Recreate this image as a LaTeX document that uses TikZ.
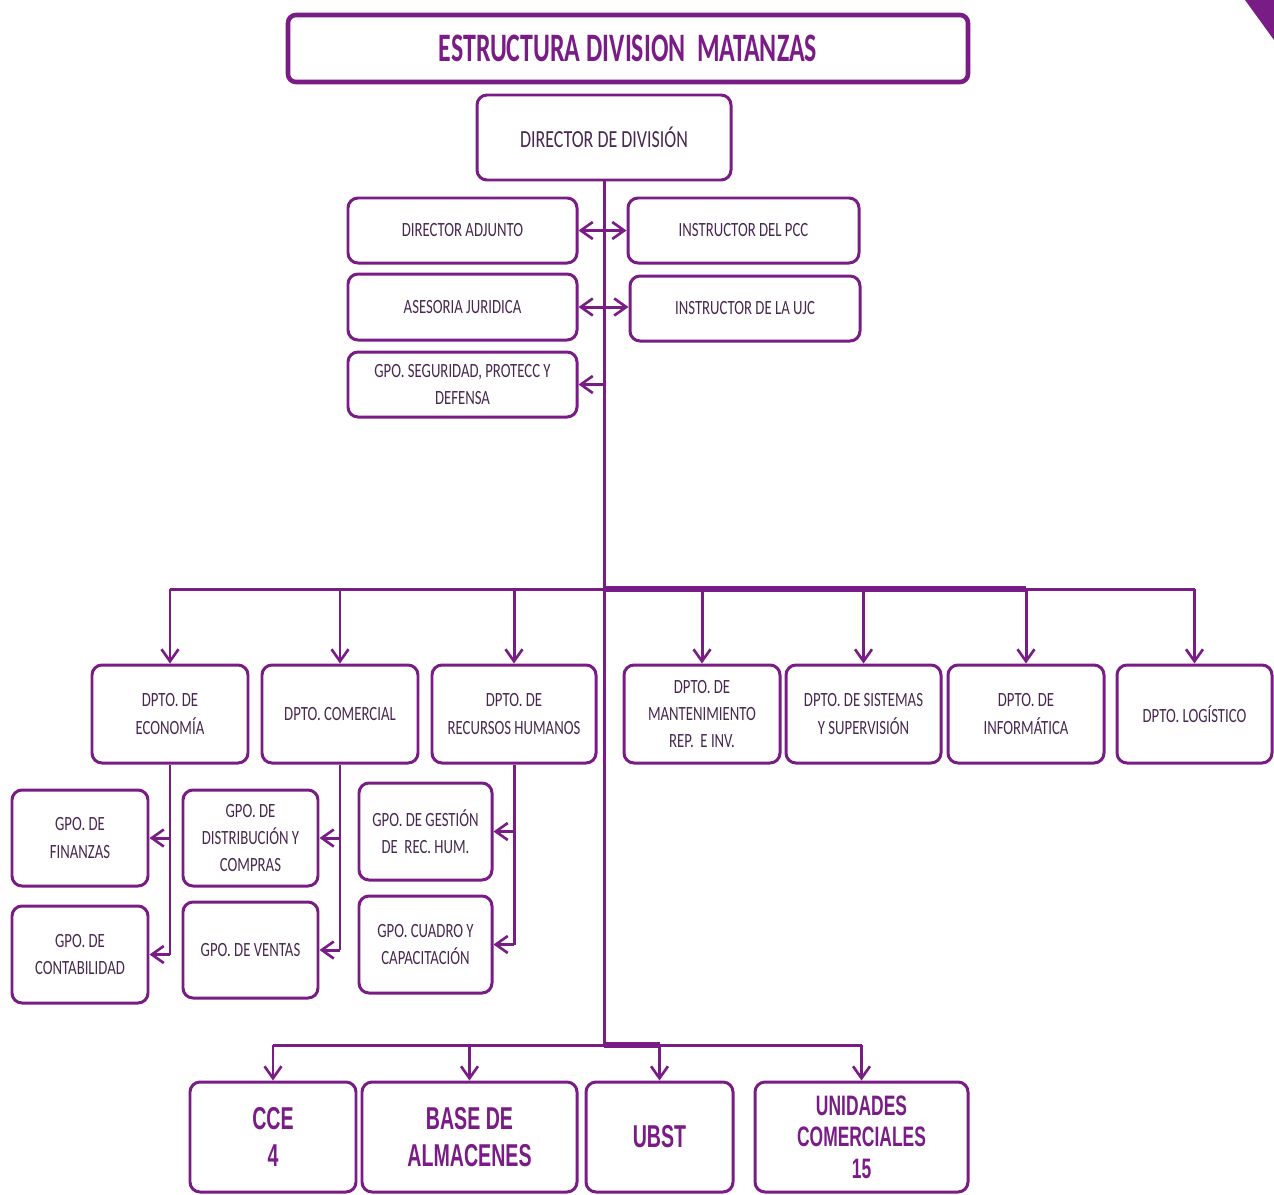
\documentclass[tikz,border=0pt]{standalone}
\usepackage{fontspec}
\setmainfont{Carlito}[FakeStretch=0.73]
\newfontfamily\titlef{Carlito}[FakeStretch=0.64]
\newfontfamily\arialb{Liberation Sans}[FakeStretch=0.62]
\usetikzlibrary{arrows.meta}
\definecolor{pur}{RGB}{122,28,134}
\definecolor{txt}{RGB}{72,40,80}
\tikzset{
  box/.style={draw=pur, line width=1.7pt, rounded corners=2mm, fill=white, align=center,
    text=txt, font=\fontsize{11.5}{15.6}\selectfont, inner sep=1pt},
  subbox/.style={box, font=\fontsize{11.5}{15.6}\selectfont},
  botbox/.style={box, text=pur, font=\arialb\bfseries\fontsize{16}{18}\selectfont},
  conn/.style={draw=pur, line width=1.7pt},
  arr/.style={conn, -{Straight Barb[length=2.4mm,width=3.4mm,line width=1.5pt]}},
  darr/.style={conn, {Straight Barb[length=2.4mm,width=3.4mm,line width=1.5pt]}-{Straight Barb[length=2.4mm,width=3.4mm,line width=1.5pt]}},
}
\newcommand\bx[6]{\node[#1, minimum width=#4*0.02cm, minimum height=#5*0.02cm] (#2) at (#3) {#6};}
\begin{document}
\begin{tikzpicture}[x=0.02cm,y=-0.02cm]
\useasboundingbox (0,0) rectangle (1274,1194);
\fill[pur] (1245,0) -- (1274,0) -- (1274,40) -- cycle;
% title
\bx{box, line width=2.6pt, rounded corners=1.6mm, text=pur, font=\titlef\bfseries\fontsize{23}{26}\selectfont}{title}{628,48.5}{680}{67}{ESTRUCTURA DIVISION\ \ MATANZAS}
\bx{box, font=\fontsize{14}{16}\selectfont}{dir}{604,137.5}{254}{85}{DIRECTOR DE DIVISIÓN}
\bx{box}{da}{462.5,230.5}{229}{65}{DIRECTOR ADJUNTO}
\bx{box}{pcc}{743.5,230.5}{231}{65}{INSTRUCTOR DEL PCC}
\bx{box}{aj}{462.5,307}{229}{66}{ASESORIA JURIDICA}
\bx{box}{ujc}{745,308.5}{230}{65}{INSTRUCTOR DE LA UJC}
\bx{box}{seg}{462.5,384.5}{229}{65}{GPO. SEGURIDAD, PROTECC Y\\DEFENSA}
% departments
\bx{box}{eco}{170,714}{156}{98}{DPTO. DE\\ECONOMÍA}
\bx{box}{com}{340,714}{156}{98}{DPTO. COMERCIAL}
\bx{box}{rh}{514,714}{164}{98}{DPTO. DE\\RECURSOS HUMANOS}
\bx{box}{man}{702,714}{156}{98}{DPTO. DE\\MANTENIMIENTO\\REP.\ \ E INV.}
\bx{box}{sis}{863.5,714}{155}{98}{DPTO. DE SISTEMAS\\Y SUPERVISIÓN}
\bx{box}{inf}{1026,714}{156}{98}{DPTO. DE\\INFORMÁTICA}
\bx{box}{log}{1194.5,714}{155}{98}{DPTO. LOGÍSTICO}
% groups
\bx{subbox}{fin}{80,838}{136}{96}{GPO. DE\\FINANZAS}
\bx{subbox}{cont}{80,954.5}{136}{97}{GPO. DE\\CONTABILIDAD}
\bx{subbox}{dist}{250.5,838}{135}{96}{GPO. DE\\DISTRIBUCIÓN Y\\COMPRAS}
\bx{subbox}{ven}{250.5,950}{135}{96}{GPO. DE VENTAS}
\bx{subbox}{ges}{425.5,831.5}{133}{97}{GPO. DE GESTIÓN\\DE\ \ REC. HUM.}
\bx{subbox}{cua}{425.5,944.5}{133}{97}{GPO. CUADRO Y\\CAPACITACIÓN}
% bottom units
\bx{botbox, font=\arialb\bfseries\fontsize{18}{21}\selectfont}{cce}{273,1137}{166}{110}{CCE\\4}
\bx{botbox, font=\arialb\bfseries\fontsize{18}{21.5}\selectfont}{base}{469.5,1137}{215}{110}{BASE DE\\ALMACENES}
\bx{botbox, font=\arialb\bfseries\fontsize{18}{21}\selectfont}{ubst}{659.5,1137}{147}{110}{UBST}
\bx{botbox}{uni}{861.5,1137}{213}{110}{UNIDADES\\COMERCIALES\\15}
% connectors
\coordinate (b1) at (604,589);
\coordinate (b2) at (604,1045);
\draw[conn] (dir.south) -- (b2);
\draw[darr] (da.east) -- (pcc.west);
\draw[darr] (aj.east) -- (aj.east -| ujc.west);
\draw[arr] (seg.east -| b1) -- (seg.east);
\draw[conn] (eco.north |- b1) -- (log.north |- b1);
\draw[conn, line width=3pt] (b1) -- (inf.north |- b1);
\foreach \n in {eco,com,rh,man,sis,inf,log}{
  \draw[arr] (\n.north |- b1) -- (\n.north);
}
\draw[conn] (eco.south) -- (eco.south |- cont.east);
\draw[arr] (eco.south |- fin.east) -- (fin.east);
\draw[arr] (eco.south |- cont.east) -- (cont.east);
\draw[conn] (com.south) -- (com.south |- ven.east);
\draw[arr] (com.south |- dist.east) -- (dist.east);
\draw[arr] (com.south |- ven.east) -- (ven.east);
\draw[conn] (rh.south) -- (rh.south |- cua.east);
\draw[arr] (rh.south |- ges.east) -- (ges.east);
\draw[arr] (rh.south |- cua.east) -- (cua.east);
\draw[conn] (cce.north |- b2) -- (uni.north |- b2);
\draw[conn, line width=3pt] (b2) -- (ubst.north |- b2);
\foreach \n in {cce,base,ubst,uni}{
  \draw[arr] (\n.north |- b2) -- (\n.north);
}
\end{tikzpicture}
\end{document}
